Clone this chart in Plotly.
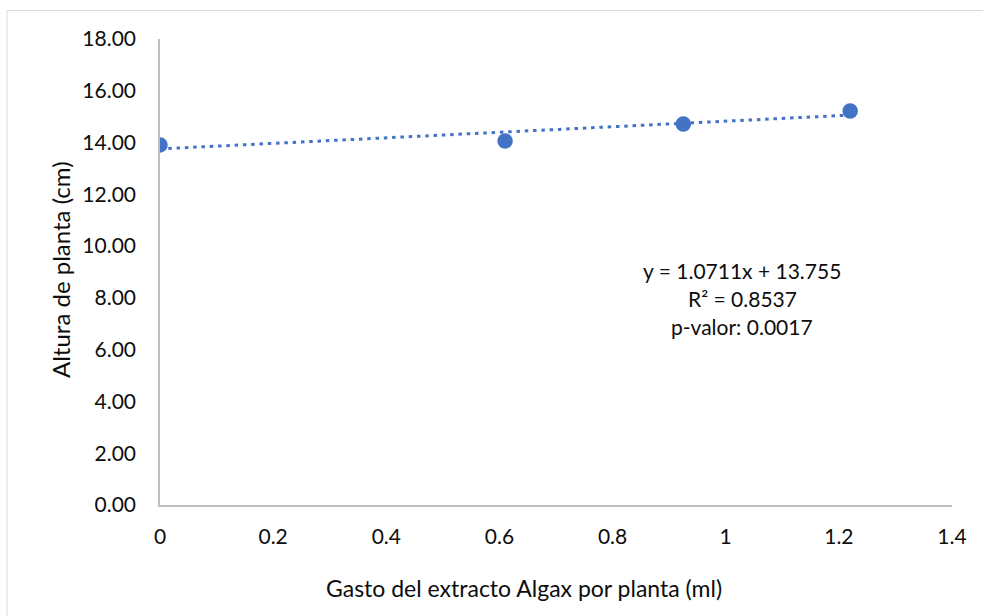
import plotly.graph_objects as go

# Data
gasto_ml = [0.0, 0.61, 0.925, 1.22]
altura_cm = [13.91, 14.06, 14.72, 15.22]

# Trendline reported on the chart
slope = 1.0711
intercept = 13.755
eq_lines = ["y = 1.0711x + 13.755", "R² = 0.8537", "p-valor: 0.0017"]

x_ticks = [0, 0.2, 0.4, 0.6, 0.8, 1.0, 1.2, 1.4]
x_tick_text = ["0", "0.2", "0.4", "0.6", "0.8", "1", "1.2", "1.4"]
y_ticks = [0, 2, 4, 6, 8, 10, 12, 14, 16, 18]
y_tick_text = [f"{v:.2f}" for v in y_ticks]

W, H = 983, 616
L, R, T, B = 160, 31, 39, 111
pw, ph = W - L - R, H - T - B

BLUE = "#4472C4"
FONT = "Lato"
TXT = "#0d0d0d"

trend_x = [min(gasto_ml), max(gasto_ml)]
trend_y = [intercept + slope * v for v in trend_x]

fig = go.Figure()
fig.add_trace(go.Scatter(
    x=trend_x, y=trend_y, mode="lines",
    line=dict(color=BLUE, width=3, dash="3.5px,4.8px"),
    hoverinfo="skip", showlegend=False,
))
fig.add_trace(go.Scatter(
    x=gasto_ml, y=altura_cm, mode="markers",
    marker=dict(color=BLUE, size=15.5, line=dict(width=0)),
    showlegend=False,
))

def px_to_paper_x(px):
    return (px - L) / pw

def px_to_paper_y(py):
    return (H - B - py) / ph

annotations = []
for i, line in enumerate(eq_lines):
    annotations.append(dict(
        x=px_to_paper_x(742), y=px_to_paper_y(270.7 + 27.7 * i),
        xref="paper", yref="paper", text=line, showarrow=False,
        xanchor="center", yanchor="middle",
        font=dict(family=FONT, size=21, color=TXT),
    ))
annotations.append(dict(
    x=px_to_paper_x(60), y=px_to_paper_y(270), xref="paper", yref="paper",
    text="Altura de planta (cm)", showarrow=False, textangle=-90,
    xanchor="center", yanchor="middle",
    font=dict(family=FONT, size=24, color=TXT),
))
annotations.append(dict(
    x=px_to_paper_x(324), y=px_to_paper_y(588), xref="paper", yref="paper",
    text="Gasto del extracto Algax por planta (ml)", showarrow=False,
    xanchor="left", yanchor="middle",
    font=dict(family=FONT, size=23, color=TXT),
))

fig.update_layout(
    width=W, height=H,
    margin=dict(l=L, r=R, t=T, b=B, pad=0),
    paper_bgcolor="white", plot_bgcolor="white",
    font=dict(family=FONT, size=21, color=TXT),
    annotations=annotations,
    shapes=[dict(
        type="rect", xref="paper", yref="paper",
        x0=px_to_paper_x(7), x1=px_to_paper_x(W + 20),
        y0=px_to_paper_y(H + 20), y1=px_to_paper_y(10.5),
        line=dict(color="#D9D9D9", width=1), fillcolor="rgba(0,0,0,0)",
        layer="below",
    )],
    xaxis=dict(
        range=[0, 1.4], tickvals=x_ticks, ticktext=x_tick_text,
        showgrid=False, zeroline=False, showline=True,
        linecolor="#BFBFBF", linewidth=1.5, ticks="", ticklabelstandoff=12,
        tickfont=dict(family=FONT, size=21, color=TXT),
    ),
    yaxis=dict(
        range=[0, 18], tickvals=y_ticks, ticktext=y_tick_text,
        showgrid=False, zeroline=False, showline=True,
        linecolor="#BFBFBF", linewidth=1.5, ticks="", ticklabelstandoff=18,
        tickfont=dict(family=FONT, size=21, color=TXT),
    ),
)

fig.write_html("out.html")
